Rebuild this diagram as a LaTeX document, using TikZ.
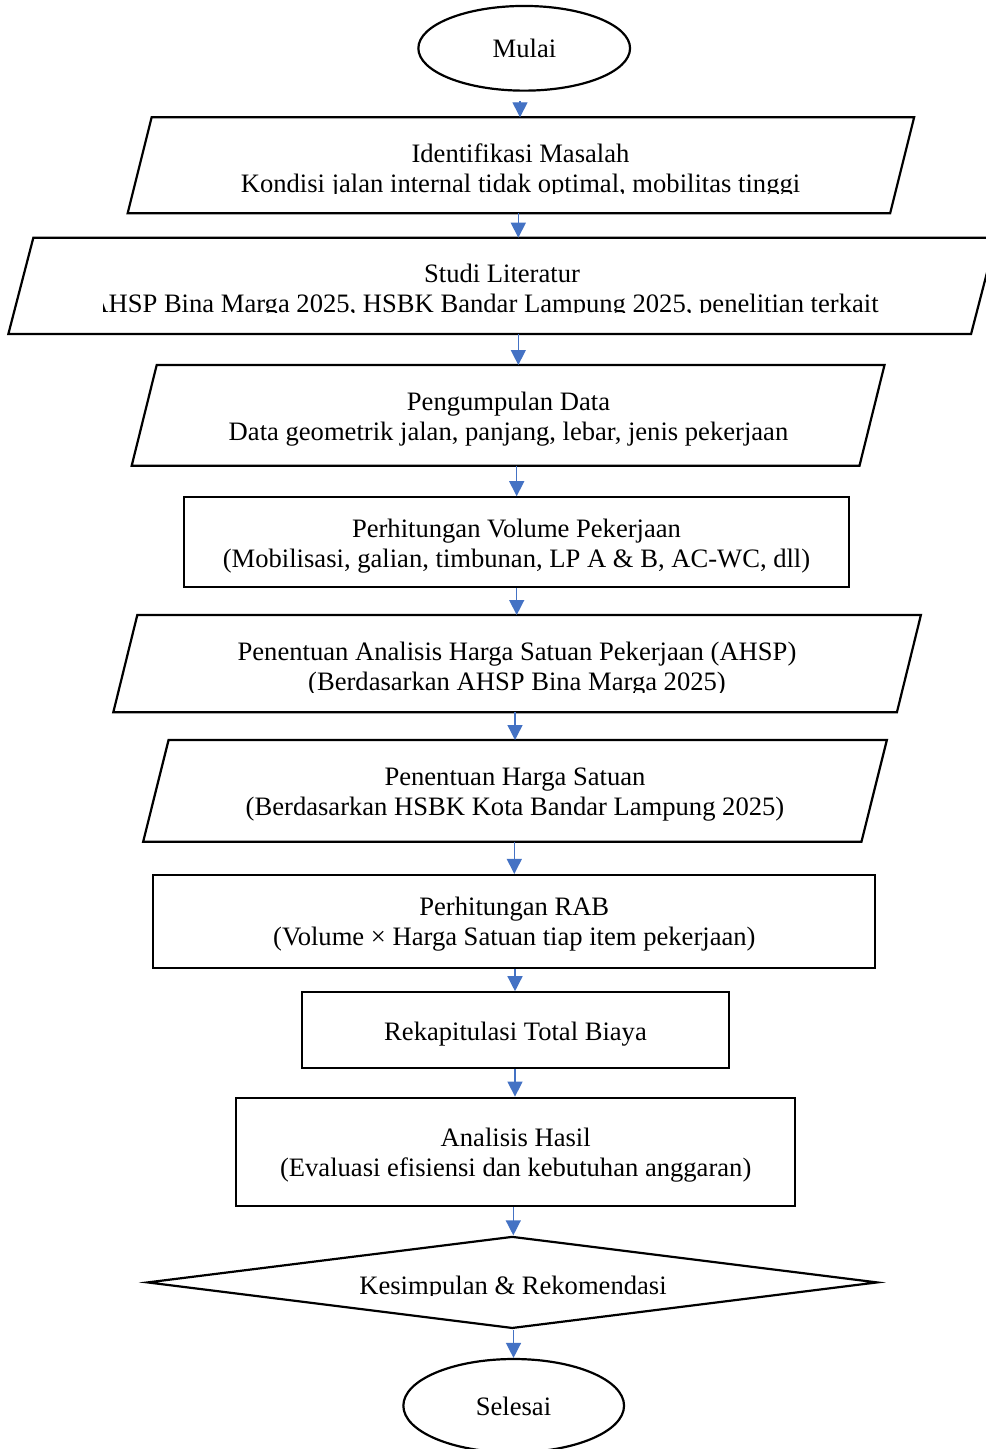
\documentclass[tikz,border=0pt]{standalone}
\usepackage{fontspec}
\setmainfont{Liberation Serif}
\usetikzlibrary{arrows.meta,shapes.geometric}
\definecolor{arrblue}{HTML}{4472C4}
\tikzset{
  outline/.style={draw=black, line width=1.1pt},
  rbox/.style={outline, rectangle, inner sep=0pt},
  pbody/.style={rectangle, inner sep=0pt, outer sep=0pt},
  oval/.style={outline, ellipse, inner sep=0pt},
  dbox/.style={outline, diamond, inner sep=0pt},
  txt/.style={inner sep=0pt, align=center, font=\fontsize{13.3pt}{15pt}\selectfont},
  arr/.style={draw=arrblue, line width=0.7pt, -{Triangle[length=7.5pt,width=7.5pt]}}
}
\newcommand\paraout[2]{\draw[outline] ([xshift=#2]#1.north west) -- ([xshift=#2]#1.north east) -- ([xshift=-#2]#1.south east) -- ([xshift=-#2]#1.south west) -- cycle;}
\begin{document}
\begin{tikzpicture}[x=0.5pt,y=-0.5pt]
\fill[white] (0,0) rectangle (985,1449);
\useasboundingbox (0,0) rectangle (985,1449);

% shapes
\node[oval, minimum width=105.85pt, minimum height=42.35pt] (start) at (524.2,48.3) {};
\node[pbody, minimum width=381.25pt, minimum height=48pt] (b1) at (520.9,165.3) {};
\paraout{b1}{6pt}
\node[pbody, minimum width=481.35pt, minimum height=48.15pt] (b2) at (502.2,285.85) {};
\paraout{b2}{6.25pt}
\node[pbody, minimum width=363.9pt, minimum height=50.35pt] (b3) at (508.1,415.35) {};
\paraout{b3}{6.25pt}
\node[rbox, minimum width=332.5pt, minimum height=45pt] (b4) at (516.5,542.3) {};
\node[pbody, minimum width=391.8pt, minimum height=48.65pt] (b5) at (517.1,663.65) {};
\paraout{b5}{6pt}
\node[pbody, minimum width=359.15pt, minimum height=50.85pt] (b6) at (515,790.85) {};
\paraout{b6}{6.35pt}
\node[rbox, minimum width=360.85pt, minimum height=46.5pt] (b7) at (514.2,921.5) {};
\node[rbox, minimum width=213.5pt, minimum height=38pt] (b8) at (515.2,1030.3) {};
\node[rbox, minimum width=279.35pt, minimum height=54.15pt] (b9) at (515.3,1151.85) {};
\node[dbox, minimum width=365.2pt, minimum height=46pt] (dia) at (512.3,1282.4) {};
\node[oval, minimum width=110.35pt, minimum height=46.7pt] (stop) at (513.7,1405.7) {};

% texts
\node[txt] (t0) at (524.5,51.3) {\strut Mulai};
\begin{scope}
\clip (0,0) rectangle (985,193.5);
\node[txt] (t1) at (520.5,171.7) {\strut Identifikasi Masalah\\\strut Kondisi jalan internal tidak optimal, mobilitas tinggi};
\end{scope}
\begin{scope}
\clip (103,0) rectangle (985,313);
\node[txt] (t2) at (502,291.3) {\strut Studi Literatur\\\strut AHSP Bina Marga 2025, HSBK Bandar Lampung 2025, penelitian terkait\hspace*{18pt}};
\end{scope}
\node[txt] (t3) at (508.5,419.7) {\strut Pengumpulan Data\\\strut Data geometrik jalan, panjang, lebar, jenis pekerjaan};
\node[txt] (t4) at (516.5,546.3) {\strut Perhitungan Volume Pekerjaan\\\strut (Mobilisasi, galian, timbunan, LP A \& B, AC-WC, dll)};
\begin{scope}
\clip (0,0) rectangle (985,692);
\node[txt] (t5) at (517,669) {\strut Penentuan Analisis Harga Satuan Pekerjaan (AHSP)\\\strut (Berdasarkan AHSP Bina Marga 2025)};
\end{scope}
\node[txt] (t6) at (515,794) {\strut Penentuan Harga Satuan\\\strut (Berdasarkan HSBK Kota Bandar Lampung 2025)};
\node[txt] (t7) at (514.3,924) {\strut Perhitungan RAB\\\strut (Volume × Harga Satuan tiap item pekerjaan)};
\node[txt] (t8) at (515.5,1034) {\strut Rekapitulasi Total Biaya};
\node[txt] (t9) at (515.7,1155.2) {\strut Analisis Hasil\\\strut (Evaluasi efisiensi dan kebutuhan anggaran)};
\begin{scope}
\clip (0,0) rectangle (985,1295);
\node[txt] (t10) at (513,1288.3) {\strut Kesimpulan \& Rekomendasi};
\end{scope}
\node[txt] (t11) at (513.5,1409) {\strut Selesai};

% connectors
\coordinate (a0) at (520,101.5);
\draw[arr] (a0) -- (a0 |- b1.north);
\draw[arr] (b1.south -| 518.3,0) -- (b2.north -| 518.3,0);
\draw[arr] (b2.south -| 518.3,0) -- (b3.north -| 518.3,0);
\draw[arr] (b3.south -| 516.7,0) -- (b4.north -| 516.7,0);
\draw[arr] (b4.south -| 516.7,0) -- (b5.north -| 516.7,0);
\draw[arr] (b5.south -| 515,0) -- (b6.north -| 515,0);
\draw[arr] (b6.south -| 514.3,0) -- (b7.north -| 514.3,0);
\draw[arr] (b7.south -| 515,0) -- (b8.north -| 515,0);
\draw[arr] (b8.south -| 515,0) -- (b9.north -| 515,0);
\draw[arr] (b9.south -| 513.3,0) -- (dia.north -| 513.3,0);
\draw[arr] (dia.south -| 513.5,0) -- (stop.north -| 513.5,0);
\end{tikzpicture}
\end{document}
